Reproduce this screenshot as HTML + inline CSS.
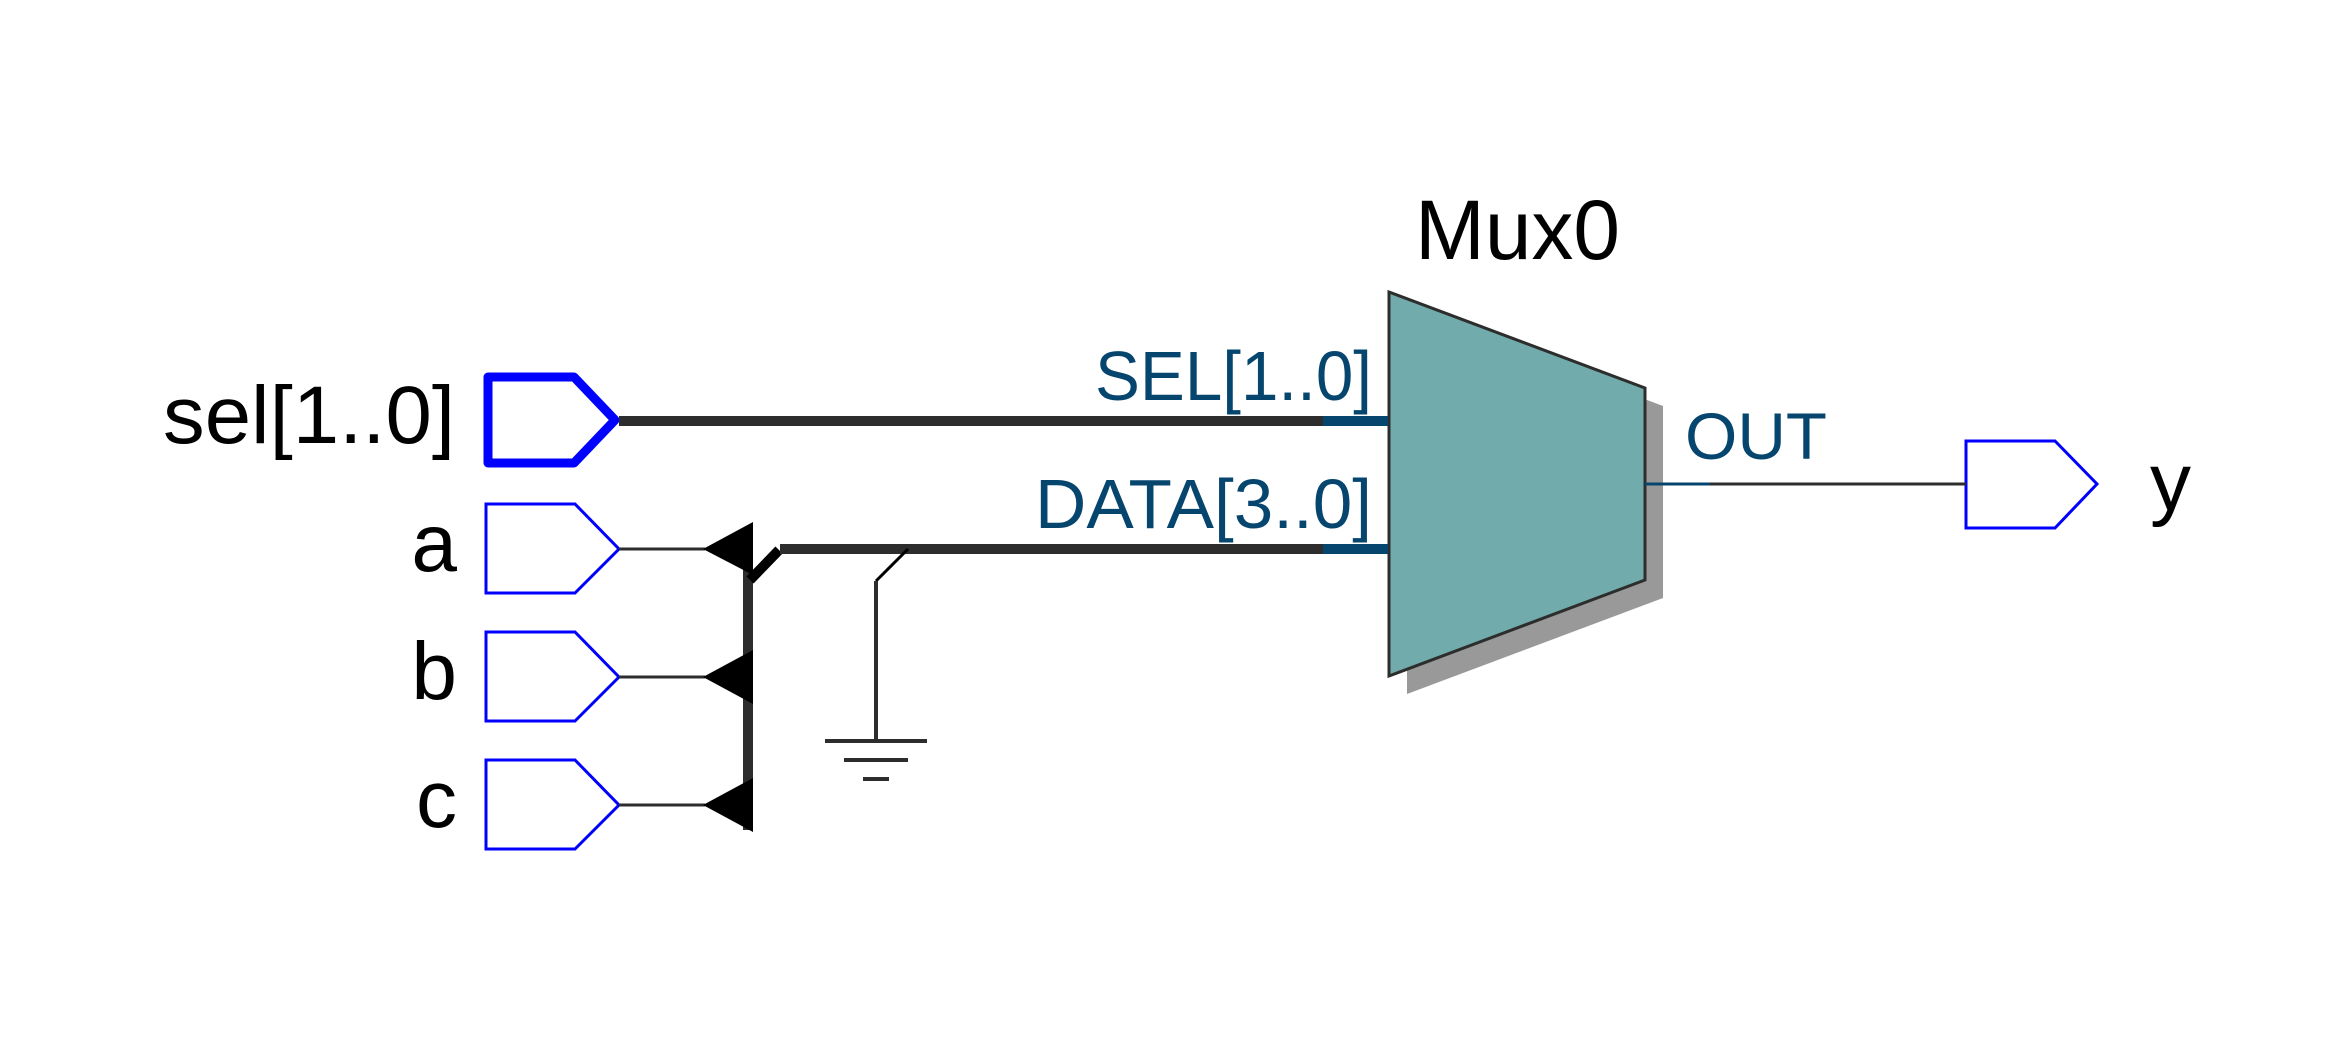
<!DOCTYPE html>
<html><head><style>html,body{margin:0;padding:0;background:#fff}svg{display:block}</style></head>
<body>
<svg width="2350" height="1048" viewBox="0 0 2350 1048" xmlns="http://www.w3.org/2000/svg" font-family="'Liberation Sans','DejaVu Sans',sans-serif">
<rect width="2350" height="1048" fill="#fff"/>
<!-- mux shadow -->
<polygon points="1407,310 1663,406 1663,598 1407,694" fill="#999"/>
<polygon points="1389,292 1645,388 1645,580 1389,676" fill="#72abab" stroke="#2d2d2d" stroke-width="3"/>
<!-- sel -->
<polygon points="488,377 574,377 615,420 574,463 488,463" fill="none" stroke="#0000ff" stroke-width="9" stroke-linejoin="round"/>
<line x1="619" y1="421" x2="1323" y2="421" stroke="#2d2d2d" stroke-width="10"/>
<line x1="1323" y1="421" x2="1388" y2="421" stroke="#06466e" stroke-width="10"/>
<!-- a b c boxes -->
<g fill="none" stroke="#0000ff" stroke-width="3">
<polygon points="486,504 575,504 619,549 575,593 486,593"/>
<polygon points="486,632 575,632 619,677 575,721 486,721"/>
<polygon points="486,760 575,760 619,805 575,849 486,849"/>
<polygon points="1966,441 2055,441 2097,484 2055,528 1966,528"/>
</g>
<g stroke="#2d2d2d" stroke-width="3">
<line x1="619" y1="549" x2="705" y2="549"/>
<line x1="619" y1="677" x2="705" y2="677"/>
<line x1="619" y1="805" x2="705" y2="805"/>
</g>
<line x1="748" y1="570" x2="748" y2="830" stroke="#2d2d2d" stroke-width="10"/>
<g fill="#000">
<polygon points="703,549 753,522 753,575"/>
<polygon points="703,677 753,650 753,704"/>
<polygon points="703,805 753,778 753,832"/>
</g>
<line x1="750" y1="580" x2="779" y2="550" stroke="#000" stroke-width="10"/>
<line x1="780" y1="549" x2="1323" y2="549" stroke="#2d2d2d" stroke-width="10"/>
<line x1="1323" y1="549" x2="1388" y2="549" stroke="#06466e" stroke-width="10"/>
<!-- ground -->
<line x1="908" y1="549" x2="876" y2="581" stroke="#000" stroke-width="3"/>
<g stroke="#2d2d2d" stroke-width="4">
<line x1="876" y1="581" x2="876" y2="740"/>
<line x1="825" y1="741" x2="927" y2="741"/>
<line x1="844" y1="760" x2="908" y2="760"/>
<line x1="863" y1="779" x2="889" y2="779"/>
</g>
<!-- out -->
<line x1="1645" y1="484" x2="1710" y2="484" stroke="#06466e" stroke-width="3"/>
<line x1="1710" y1="484" x2="1966" y2="484" stroke="#2d2d2d" stroke-width="3"/>
<!-- text -->
<g fill="#000" font-size="82">
<text x="455" y="443" text-anchor="end" textLength="292" lengthAdjust="spacingAndGlyphs">sel[1..0]</text>
<text x="457" y="571" text-anchor="end">a</text>
<text x="457" y="699" text-anchor="end">b</text>
<text x="457" y="827" text-anchor="end">c</text>
<text x="2150" y="510">y</text>
<text x="1415" y="259" font-size="84" textLength="205" lengthAdjust="spacingAndGlyphs">Mux0</text>
</g>
<g fill="#06466e" font-size="70">
<text x="1095" y="400" textLength="277" lengthAdjust="spacingAndGlyphs">SEL[1..0]</text>
<text x="1035" y="528" textLength="337" lengthAdjust="spacingAndGlyphs">DATA[3..0]</text>
<text x="1685" y="459" font-size="66" textLength="142" lengthAdjust="spacingAndGlyphs">OUT</text>
</g>
</svg>
</body></html>
